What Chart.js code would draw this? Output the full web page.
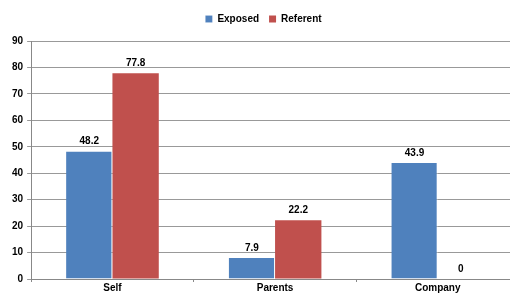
<!DOCTYPE html>
<html>
<head>
<meta charset="utf-8">
<script src="https://cdn.jsdelivr.net/npm/chart.js@4"></script>
<style>
  html, body { margin: 0; padding: 0; background: #fff; overflow: hidden; }
  #wrap { width: 522px; height: 294px; position: relative; }
</style>
</head>
<body>
<div id="wrap"><canvas id="chart"></canvas></div>
<script>
const categories = ['Self', 'Parents', 'Company'];
const exposed = [48.2, 7.9, 43.9];
const referent = [77.8, 22.2, 0];
const yTicks = [0, 10, 20, 30, 40, 50, 60, 70, 80, 90];

const FONT = "'Liberation Sans', Arial, sans-serif";

// draw the value above each bar
const valueLabels = {
  id: 'valueLabels',
  afterDatasetsDraw(chart) {
    const ctx = chart.ctx;
    ctx.save();
    ctx.font = 'bold 10px ' + FONT;
    ctx.fillStyle = '#000';
    ctx.textAlign = 'center';
    ctx.textBaseline = 'bottom';
    chart.data.datasets.forEach((ds, i) => {
      chart.getDatasetMeta(i).data.forEach((bar, j) => {
        ctx.fillText(String(ds.data[j]), bar.x, bar.y - 5);
      });
    });
    ctx.restore();
  }
};

// extra room under the legend
const legendGap = {
  id: 'legendGap',
  beforeInit(chart) {
    const fit = chart.legend.fit;
    chart.legend.fit = function () {
      fit.bind(chart.legend)();
      this.height += 7;
    };
  }
};

new Chart(document.getElementById('chart'), {
  type: 'bar',
  data: {
    labels: categories,
    datasets: [
      {
        label: 'Exposed',
        data: exposed,
        backgroundColor: '#4F81BD',
        borderColor: 'rgba(255,255,255,0.5)',
        borderWidth: { left: 0, right: 1, top: 0, bottom: 0 },
        categoryPercentage: 0.57,
        barPercentage: 1,
      },
      {
        label: 'Referent',
        data: referent,
        backgroundColor: '#C0504D',
        borderWidth: 0,
        categoryPercentage: 0.57,
        barPercentage: 1,
      },
    ],
  },
  options: {
    responsive: true,
    maintainAspectRatio: false,
    animation: false,
    layout: { padding: { left: 8, right: 3, top: 4, bottom: 0 } },
    plugins: {
      legend: {
        labels: {
          boxWidth: 7,
          boxHeight: 7,
          padding: 10,
          color: '#000',
          font: { family: FONT, size: 10, weight: 'bold' },
        },
      },
      tooltip: { enabled: false },
    },
    scales: {
      x: {
        grid: {
          drawOnChartArea: false,
          offset: true,
          tickLength: 3,
          color: '#888',
        },
        border: { color: '#888' },
        ticks: {
          color: '#000',
          padding: 0,
          font: { family: FONT, size: 10, weight: 'bold' },
        },
      },
      y: {
        min: 0,
        max: 90,
        afterBuildTicks: (axis) => { axis.ticks = yTicks.map(v => ({ value: v })); },
        grid: { color: '#999', tickLength: 4 },
        border: { color: '#888' },
        ticks: {
          color: '#000',
          padding: 4,
          font: { family: FONT, size: 10, weight: 'bold' },
        },
      },
    },
  },
  plugins: [valueLabels, legendGap],
});
</script>
</body>
</html>
